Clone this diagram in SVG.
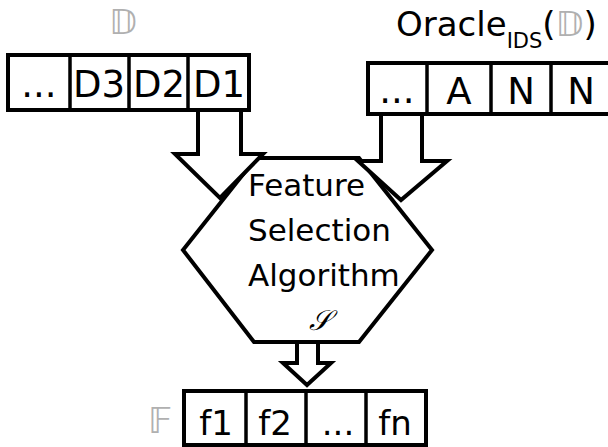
<svg xmlns="http://www.w3.org/2000/svg" width="608" height="447" viewBox="0 0 608 447">
<style>
.box{fill:#fff;stroke:#000;stroke-width:4}
.div{stroke:#000;stroke-width:3.5}
.arr{fill:#fff;stroke:#000;stroke-width:4;stroke-linejoin:miter}
.t{font-family:"DejaVu Sans",sans-serif;fill:#000}
.c{text-anchor:middle}
.bb{font-family:"DejaVu Sans",sans-serif;fill:#b0b0b0}
</style>
<rect width="608" height="447" fill="#fff"/>
<g id="hexagon">
<polygon class="box" points="256,158 359,158 432,250 359,342 254,342 183,250"/>
<text class="t" x="248" y="196" font-size="31">Feature</text>
<text class="t" x="248" y="241" font-size="31">Selection</text>
<text class="t" x="248" y="286" font-size="31">Algorithm</text>
<text x="320" y="330" font-size="28" font-style="italic" text-anchor="middle" font-family="'DejaVu Serif','Liberation Serif',serif">𝒮</text>
</g>
<g id="connectors">
<polygon class="arr" points="198,110 241,110 241,154 263,154 220,198 175,154 198,154"/>
<polygon class="arr" points="381,114 422,114 422,161 447,161 401,200 358,161 381,161"/>
<polygon class="arr" points="297,342 318,342 318,363 331,363 307,385 283,363 297,363"/>
</g>
<g id="dataset">
<rect class="box" x="8" y="55" width="241" height="55"/>
<line class="div" x1="70" y1="55" x2="70" y2="110"/>
<line class="div" x1="129" y1="55" x2="129" y2="110"/>
<line class="div" x1="188" y1="55" x2="188" y2="110"/>
<g class="t c" font-size="37">
<text x="39" y="97">...</text>
<text x="99" y="97">D3</text>
<text x="159" y="97">D2</text>
<text x="219" y="97">D1</text>
</g>
<text class="bb" x="123" y="34" font-size="34" text-anchor="middle">𝔻</text>
</g>
<g id="oracle">
<rect class="box" x="368" y="63" width="250" height="51"/>
<line class="div" x1="427" y1="63" x2="427" y2="114"/>
<line class="div" x1="491" y1="63" x2="491" y2="114"/>
<line class="div" x1="551" y1="63" x2="551" y2="114"/>
<g class="t c" font-size="37">
<text x="397" y="103">...</text>
<text x="459" y="104">A</text>
<text x="521" y="104">N</text>
<text x="581" y="104">N</text>
</g>
<text class="t" x="396" y="36" font-size="34">Oracle<tspan font-size="21" dy="12">IDS</tspan><tspan dy="-12">(</tspan><tspan class="bb" font-size="34">𝔻</tspan><tspan>)</tspan></text>
</g>
<g id="features">
<rect class="box" x="184" y="391" width="242" height="54"/>
<line class="div" x1="246" y1="391" x2="246" y2="445"/>
<line class="div" x1="306" y1="391" x2="306" y2="445"/>
<line class="div" x1="366" y1="391" x2="366" y2="445"/>
<g class="t c" font-size="34">
<text x="216" y="435">f1</text>
<text x="275" y="435">f2</text>
<text x="338" y="435">...</text>
<text x="395" y="435">fn</text>
</g>
<text class="bb" x="160" y="433" font-size="36" text-anchor="middle">𝔽</text>
</g>
</svg>
